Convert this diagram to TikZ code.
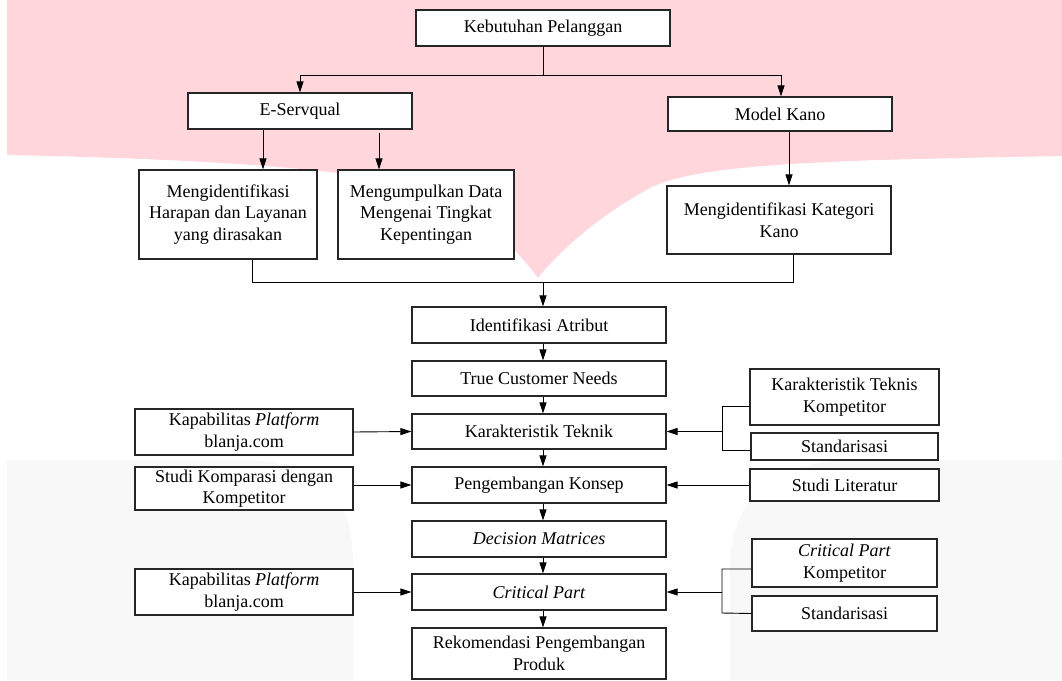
\documentclass[tikz,border=0pt]{standalone}
\usepackage{fontspec}
\setmainfont{Liberation Serif}
\usetikzlibrary{arrows.meta,calc}
\definecolor{wpink}{HTML}{FFD6DB}
\definecolor{wgray}{HTML}{F8F8F8}
\begin{document}
\begin{tikzpicture}[x=1pt,y=-1pt,
  box/.style={draw=black!85,line width=1.2pt,fill=white,inner sep=0pt,align=center,
    font=\fontsize{18}{21.5}\selectfont},
  conn/.style={draw=black,line width=0.9pt},
  arr/.style={conn,-{Triangle[length=11pt,width=7pt]}}]
\useasboundingbox (0,0) rectangle (1062,680);
% watermark
\fill[wpink] (7,0) -- (1062,0) -- (1062,156) .. controls (850,160) and (700,162) .. (650,188)
  .. controls (600,215) and (560,250) .. (538,278) .. controls (510,240) and (470,205) .. (420,190)
  .. controls (370,172) and (250,160) .. (7,155) -- cycle;
\fill[wgray] (7,460) -- (250,460) .. controls (320,462) and (353,500) .. (353,560) -- (353,680) -- (7,680) -- cycle;
\fill[wgray] (730,680) -- (730,560) .. controls (735,490) and (780,462) .. (850,460) -- (1062,460) -- (1062,680) -- cycle;
% nodes
\node[box,minimum width=254pt,minimum height=36pt] (kp) at (543,28) {Kebutuhan Pelanggan};
\node[box,minimum width=224pt,minimum height=36pt] (es) at (300,111) {E-Servqual};
\node[box,minimum width=224pt,minimum height=34pt] (mk) at (780,114) {Model Kano};
\node[box,minimum width=178pt,minimum height=89pt] (mh) at (228,214.5) {Mengidentifikasi\\Harapan dan Layanan\\yang dirasakan};
\node[box,minimum width=176pt,minimum height=89pt] (md) at (426,214.5) {Mengumpulkan Data\\Mengenai Tingkat\\Kepentingan};
\node[box,minimum width=224pt,minimum height=68pt] (kk) at (779,220) {Mengidentifikasi Kategori\\Kano};
\node[box,minimum width=254pt,minimum height=36pt] (ia) at (539,325) {Identifikasi Atribut};
\node[box,minimum width=254pt,minimum height=35pt] (tcn) at (539,378.5) {True Customer Needs};
\node[box,minimum width=254pt,minimum height=35pt] (kt) at (539,431.5) {Karakteristik Teknik};
\node[box,minimum width=254pt,minimum height=36pt] (pk) at (539,485) {Pengembangan Konsep};
\node[box,minimum width=254pt,minimum height=36pt] (dm) at (539,539) {\textit{Decision Matrices}};
\node[box,minimum width=254pt,minimum height=36pt] (cp) at (539,592) {\textit{Critical Part}};
\node[box,minimum width=254pt,minimum height=51pt] (rp) at (539,653.5) {Rekomendasi Pengembangan\\Produk};
\node[box,minimum width=218pt,minimum height=46pt] (kb1) at (244,432) {Kapabilitas \textit{Platform}\\blanja.com};
\node[box,minimum width=218pt,minimum height=43pt] (sk) at (244,488.5) {Studi Komparasi dengan\\Kompetitor};
\node[box,minimum width=218pt,minimum height=46pt] (kb2) at (244,592) {Kapabilitas \textit{Platform}\\blanja.com};
\node[box,minimum width=189pt,minimum height=56pt] (ktk) at (844.5,397) {Karakteristik Teknis\\Kompetitor};
\node[box,minimum width=187pt,minimum height=27pt] (st1) at (844.5,446.5) {Standarisasi};
\node[box,minimum width=189pt,minimum height=32pt] (sl) at (844.5,485) {Studi Literatur};
\node[box,minimum width=185pt,minimum height=48pt] (cpk) at (844.5,563) {\textit{Critical Part}\\Kompetitor};
\node[box,minimum width=185pt,minimum height=35pt] (st2) at (844.5,613.5) {Standarisasi};
% top split
\coordinate (s1) at (543,75);
\draw[conn] (kp.south) -- (s1);
\draw[arr] (s1) -| (es.north);
\draw[arr] (s1) -| ($(mk.north)+(1,0)$);
\draw[arr] ($(es.south)+(-37,0)$) -- ($(mh.north)+(35,0)$);
\draw[arr] ($(es.south)+(79,3)$) -- ($(md.north)+(-47,0)$);
\draw[arr] ($(mk.south)+(9,0)$) -- ($(kk.north)+(10,0)$);
% merge
\coordinate (m1) at (543,282);
\draw[conn] ($(mh.south)+(24,0)$) |- (m1);
\draw[conn] ($(kk.south)+(14,0)$) |- (m1);
\draw[arr] (m1) -- ($(ia.north)+(4,0)$);
% central chain
\foreach \a/\b in {ia/tcn,tcn/kt,kt/pk,pk/dm,dm/cp,cp/rp}
  \draw[arr] ($(\a.south)+(4,0)$) -- ($(\b.north)+(4,0)$);
% left inputs
\draw[arr] (kb1.east) -- (kt.west);
\draw[arr] (sk.east |- pk.west) -- (pk.west);
\draw[arr] (kb2.east) -- (cp.west);
% right inputs
\coordinate (b1) at (722,431.5);
\draw[conn] ($(ktk.west)+(0,9.5)$) -| (722,450) -- ($(st1.west)+(0,3.5)$);
\draw[arr] (b1) -- (kt.east);
\draw[arr] (sl.west) -- (pk.east);
\coordinate (b2) at (722,592);
\draw[conn] ($(cpk.west)+(0,6)$) -| (722,613) -- (st2.west);
\draw[arr] (b2) -- (cp.east);
\end{tikzpicture}
\end{document}
